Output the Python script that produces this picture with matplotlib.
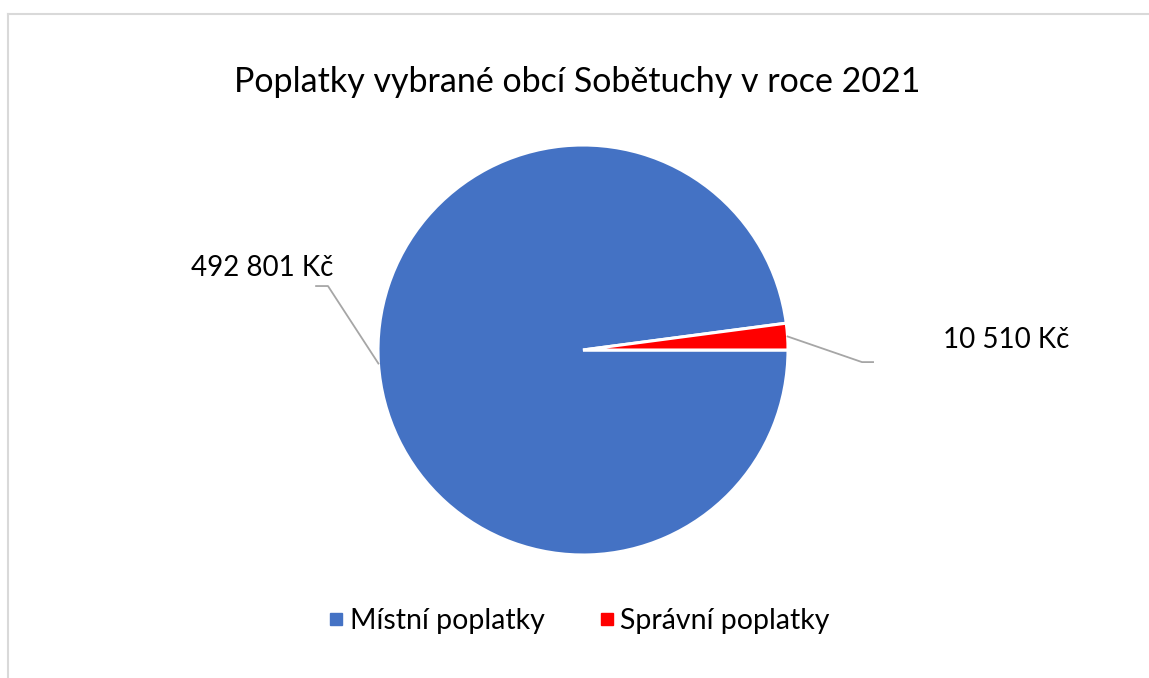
import matplotlib.pyplot as plt
from matplotlib.lines import Line2D

categories = ["Místní poplatky", "Správní poplatky"]
values = [492801, 10510]
value_labels = ["492 801 Kč", "10 510 Kč"]
colors = ["#4472C4", "#FF0000"]

W, H = 1149, 678
plt.rcParams["font.family"] = ["Lato", "DejaVu Sans"]

fig = plt.figure(figsize=(W / 100, H / 100), dpi=100)

# chart frame (only top and left edges visible in the crop)
fig.add_artist(Line2D([8 / W, 1], [1 - 13.5 / H, 1 - 13.5 / H], color="#D9D9D9", lw=1.5))
fig.add_artist(Line2D([8 / W, 8 / W], [0, 1 - 13.5 / H], color="#D9D9D9", lw=1.5))

cx, cy, r = 583, 350, 205
ax = fig.add_axes([(cx - r) / W, (H - cy - r) / H, 2 * r / W, 2 * r / H])
wedges, _ = ax.pie(values, colors=colors, startangle=0, counterclock=False,
                   radius=1, wedgeprops=dict(edgecolor="white", linewidth=2.2))
ax.set_xlim(-1, 1)
ax.set_ylim(-1, 1)
ax.set_aspect("equal")
ax.axis("off")

# leader lines + data labels, in pie data units
leaders = [
    [(-0.998, -0.066), (-1.244, 0.312), (-1.302, 0.312)],
    [(0.998, 0.066), (1.361, -0.059), (1.415, -0.059)],
]
label_pos = [(-1.566, 0.40), (2.063, 0.049)]
for pts, (lx, ly), txt in zip(leaders, label_pos, value_labels):
    xs, ys = zip(*pts)
    ax.plot(xs, ys, color="#A6A6A6", lw=1.3, clip_on=False)
    ax.text(lx, ly, txt, ha="center", va="center", fontsize=20, clip_on=False)

fig.text(577 / W, 1 - 82 / H, "Poplatky vybrané obcí Sobětuchy v roce 2021",
         ha="center", va="center", fontsize=24.5)

handles = [Line2D([], [], marker="s", ls="", markersize=8, color=c) for c in colors]
fig.legend(handles, categories, loc="center", bbox_to_anchor=(579 / W, 1 - 621 / H),
           ncol=2, frameon=False, fontsize=20.5, handlelength=0.55, handletextpad=0.2,
           columnspacing=1.9)

fig.savefig("out.png", dpi=100)
